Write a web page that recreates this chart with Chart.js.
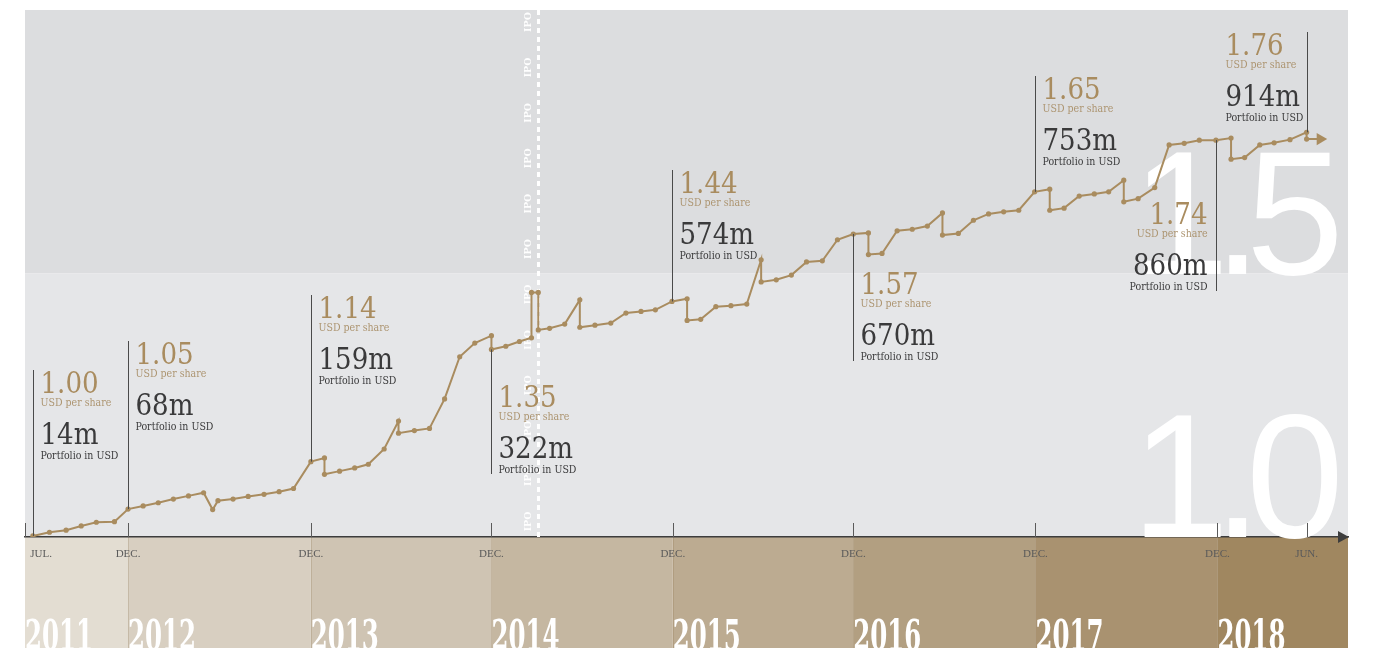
<!DOCTYPE html>
<html>
<head>
<meta charset="utf-8">
<script src="https://cdn.jsdelivr.net/npm/chart.js@4.4.1/dist/chart.umd.min.js"></script>
<style>
  html, body { margin: 0; padding: 0; background: #fff; }
  #wrap { width: 1389px; height: 648px; position: relative; }
</style>
</head>
<body>
<div id="wrap"><canvas id="navChart"></canvas></div>
<script>
// months counted from Dec 2011
const months = [
  -6.3, -5.2, -4.1, -3.1, -2.1, -0.9, 0,
  1, 2, 3, 4, 5, 5.6, 5.95, 6.95, 7.95, 9, 10, 10.95, 12.1,
  13, 13, 14, 15, 15.9, 16.95, 17.9, 17.9, 18.95, 19.95, 20.95, 21.95, 22.95, 24.05, 24.05,
  25, 25.9, 26.7, 26.7, 27.15, 27.15, 27.9, 28.9, 29.9, 29.9, 30.9, 31.95, 32.95, 33.95, 34.9, 36,
  37, 37, 37.9, 38.9, 39.9, 40.95, 41.9, 41.9, 42.9, 43.9, 44.9, 45.95, 46.95, 48,
  49, 49, 49.9, 50.9, 51.9, 52.9, 53.9, 53.9, 54.95, 55.95, 56.95, 57.95, 58.95, 60,
  61, 61, 61.95, 62.95, 63.95, 64.9, 65.9, 65.9, 66.85, 67.95, 68.9, 69.9, 70.9, 72,
  73, 73, 73.9, 74.9, 75.85, 76.9, 78, 78, 78.9
];
// USD per share
const navPerShare = [
  1.002, 1.009, 1.013, 1.021, 1.028, 1.029, 1.053,
  1.059, 1.065, 1.072, 1.078, 1.084, 1.052, 1.069, 1.072, 1.077, 1.081, 1.086, 1.092, 1.143,
  1.150, 1.119, 1.125, 1.131, 1.138, 1.167, 1.220, 1.197, 1.202, 1.206, 1.262, 1.342, 1.368, 1.382, 1.356,
  1.362, 1.371, 1.378, 1.464, 1.464, 1.393, 1.396, 1.404, 1.450, 1.398, 1.402, 1.406, 1.425, 1.428, 1.431, 1.447,
  1.452, 1.411, 1.413, 1.437, 1.439, 1.442, 1.526, 1.484, 1.488, 1.497, 1.522, 1.524, 1.564, 1.575,
  1.577, 1.536, 1.538, 1.581, 1.584, 1.590, 1.615, 1.573, 1.576, 1.601, 1.613, 1.617, 1.620, 1.655,
  1.660, 1.620, 1.624, 1.647, 1.651, 1.655, 1.677, 1.636, 1.642, 1.663, 1.744, 1.747, 1.753, 1.753,
  1.757, 1.717, 1.720, 1.744, 1.748, 1.754, 1.768, 1.755, 1.755
];

const tickMonths = [-6.3, 0, 12.1, 24.05, 36.05, 48, 60.05, 72.1, 78];
const tickLabels = ['JUL.', 'DEC.', 'DEC.', 'DEC.', 'DEC.', 'DEC.', 'DEC.', 'DEC.', 'JUN.'];
const yTicks = [1.0, 1.5];

const yearLabels = ['2011', '2012', '2013', '2014', '2015', '2016', '2017', '2018'];
const decMonths = [0, 12.1, 24.05, 36.05, 48, 60.05, 72.1];

const ipoMonth = 27.1;

const noteMonths = [-6.3, 0, 12.1, 24.05, 36, 48, 60, 72, 78];
const noteNav = ['1.00', '1.05', '1.14', '1.35', '1.44', '1.57', '1.65', '1.74', '1.76'];
const notePortfolio = ['14m', '68m', '159m', '322m', '574m', '670m', '753m', '860m', '914m'];

const xMin = -6.82, xMax = 80.74;

const gold = '#a98c5f';
const dark = '#3a3a3b';
const serif = "'DejaVu Serif Condensed', 'DejaVu Serif', serif";
const bandColors = ['#e3ddd2', '#d8cfc1', '#cfc4b3', '#c5b7a1', '#bcab91', '#b29f81', '#a99270', '#a08760'];

// where each text block sits (top of the block), and which side of the line
const noteLayout = [
  { top: 370 }, { top: 341 }, { top: 295 }, { top: 384, below: true },
  { top: 170 }, { top: 271, below: true }, { top: 76 },
  { top: 201, below: true, align: 'right', dx: -9 }, { top: 32, dx: -82 }
];

function drawTight(ctx, text, right, baseline, gap) {
  const chars = [...text];
  const widths = chars.map(c => ctx.measureText(c).width);
  const total = widths.reduce((a, b) => a + b, 0) + gap * (chars.length - 1);
  let x = right - total;
  chars.forEach((c, i) => { ctx.fillText(c, x, baseline); x += widths[i] + gap; });
}

const backdrop = {
  id: 'backdrop',
  beforeDraw(chart) {
    const { ctx, chartArea: a, scales: { x, y } } = chart;
    const mid = y.getPixelForValue(1.5);
    ctx.save();
    ctx.fillStyle = '#dcdddf';
    ctx.fillRect(a.left, a.top, a.right - a.left, mid - a.top);
    ctx.fillStyle = '#e5e6e8';
    ctx.fillRect(a.left, mid, a.right - a.left, a.bottom - mid);

    // year bands under the axis
    const edges = [a.left, ...decMonths.map(m => x.getPixelForValue(m)), a.right];
    yearLabels.forEach((label, i) => {
      ctx.fillStyle = bandColors[i];
      ctx.fillRect(edges[i], a.bottom, edges[i + 1] - edges[i], chart.height - a.bottom);
      if (i > 0) {
        ctx.fillStyle = 'rgba(140,115,80,0.25)';
        ctx.fillRect(Math.round(edges[i]), a.bottom, 1, chart.height - a.bottom);
      }
      ctx.fillStyle = '#fff';
      ctx.font = "bold 42px " + serif;
      ctx.textAlign = 'left';
      ctx.textBaseline = 'alphabetic';
      ctx.fillText(label, edges[i], chart.height + 2, 68);
    });
    ctx.restore();
  },
  beforeDatasetsDraw(chart) {
    const { ctx, chartArea: a, scales: { x, y } } = chart;
    ctx.save();
    // big white values
    ctx.fillStyle = '#fff';
    ctx.font = "176px 'Liberation Sans', Arial, sans-serif";
    ctx.textAlign = 'left';
    ctx.textBaseline = 'alphabetic';
    yTicks.forEach(v => drawTight(ctx, v.toFixed(1), a.right - 4, y.getPixelForValue(v), -16));

    // IPO marker
    const ix = Math.round(x.getPixelForValue(ipoMonth)) + 0.5;
    ctx.strokeStyle = '#fff';
    ctx.lineWidth = 3;
    ctx.setLineDash([5, 4]);
    ctx.beginPath();
    ctx.moveTo(ix, a.top);
    ctx.lineTo(ix, a.bottom);
    ctx.stroke();
    ctx.setLineDash([]);
    ctx.font = "bold 9.5px 'DejaVu Serif', serif";
    ctx.textAlign = 'center';
    ctx.textBaseline = 'middle';
    ctx.fillStyle = 'rgba(255,255,255,0.95)';
    for (let yy = a.top + 12; yy < a.bottom - 5; yy += 45.4) {
      ctx.save();
      ctx.translate(ix - 10, yy);
      ctx.rotate(-Math.PI / 2);
      ctx.fillText('IPO', 0, 0);
      ctx.restore();
    }

    // small tick marks standing on the axis
    ctx.strokeStyle = '#5a5a5a';
    ctx.lineWidth = 1;
    [a.left, ...tickMonths.map(m => x.getPixelForValue(m))].forEach(px => {
      const p = Math.round(px) + 0.5;
      ctx.beginPath();
      ctx.moveTo(p, a.bottom - 14);
      ctx.lineTo(p, a.bottom);
      ctx.stroke();
    });
    ctx.restore();
  },
  afterDatasetsDraw(chart) {
    const { ctx, chartArea: a, scales: { x, y } } = chart;
    ctx.save();
    noteMonths.forEach((m, i) => {
      const lay = noteLayout[i];
      const vals = navPerShare.filter((v, k) => Math.abs(months[k] - m) < 0.02);
      const anchor = y.getPixelForValue(lay.below ? Math.min(...vals) : Math.max(...vals));
      const lx = Math.round(x.getPixelForValue(m)) + 0.5;
      const t = lay.top;
      ctx.strokeStyle = '#4a4a4a';
      ctx.lineWidth = 1;
      ctx.beginPath();
      if (lay.below) { ctx.moveTo(lx, anchor); ctx.lineTo(lx, t + 90); }
      else { ctx.moveTo(lx, t); ctx.lineTo(lx, anchor); }
      ctx.stroke();

      const tx = lx + (lay.dx !== undefined ? lay.dx : 7);
      ctx.textAlign = lay.align || 'left';
      ctx.textBaseline = 'alphabetic';
      ctx.fillStyle = gold;
      ctx.font = "29px " + serif;
      ctx.fillText(noteNav[i], tx, t + 23);
      ctx.fillStyle = '#ad9571';
      ctx.font = "10.5px " + serif;
      ctx.fillText('USD per share', tx, t + 36);
      ctx.fillStyle = dark;
      ctx.font = "29px " + serif;
      ctx.fillText(notePortfolio[i], tx, t + 74);
      ctx.font = "10.5px " + serif;
      ctx.fillText('Portfolio in USD', tx, t + 89);
    });

    // arrow head on the time axis
    ctx.fillStyle = '#3d3d3d';
    ctx.beginPath();
    ctx.moveTo(a.right + 1, a.bottom);
    ctx.lineTo(a.right - 10, a.bottom - 6);
    ctx.lineTo(a.right - 10, a.bottom + 6);
    ctx.closePath();
    ctx.fill();
    ctx.restore();
  }
};

const last = months.length - 1;

new Chart(document.getElementById('navChart'), {
  type: 'line',
  data: {
    datasets: [{
      data: months.map((m, i) => ({ x: m, y: navPerShare[i] })),
      borderColor: gold,
      backgroundColor: gold,
      borderWidth: 2,
      tension: 0,
      pointRadius: ctx => ctx.dataIndex === last ? 7 : 2.6,
      pointStyle: ctx => ctx.dataIndex === last ? 'triangle' : 'circle',
      pointRotation: ctx => ctx.dataIndex === last ? 90 : 0,
      pointBorderWidth: 0,
      pointBackgroundColor: gold
    }]
  },
  options: {
    responsive: true,
    maintainAspectRatio: false,
    animation: false,
    devicePixelRatio: 1,
    layout: { padding: { left: 25, right: 41, top: 10, bottom: 0 } },
    plugins: { legend: { display: false }, tooltip: { enabled: false } },
    scales: {
      x: {
        type: 'linear',
        min: xMin,
        max: xMax,
        afterBuildTicks: s => { s.ticks = tickMonths.map(v => ({ value: v })); },
        afterFit: s => { s.height = 111; },
        grid: { display: false, drawTicks: false },
        border: { display: true, color: '#3d3d3d', width: 1.5 },
        ticks: {
          autoSkip: false,
          maxRotation: 0,
          padding: 11,
          color: '#5a5a5a',
          font: { family: "'Liberation Serif', serif", size: 11 },
          callback: (v, i) => i === 0 ? '\u2002\u2002\u2002' + tickLabels[i] : tickLabels[i]
        }
      },
      y: {
        type: 'linear',
        min: 1,
        max: 2,
        display: false
      }
    }
  },
  plugins: [backdrop]
});
</script>
</body>
</html>
